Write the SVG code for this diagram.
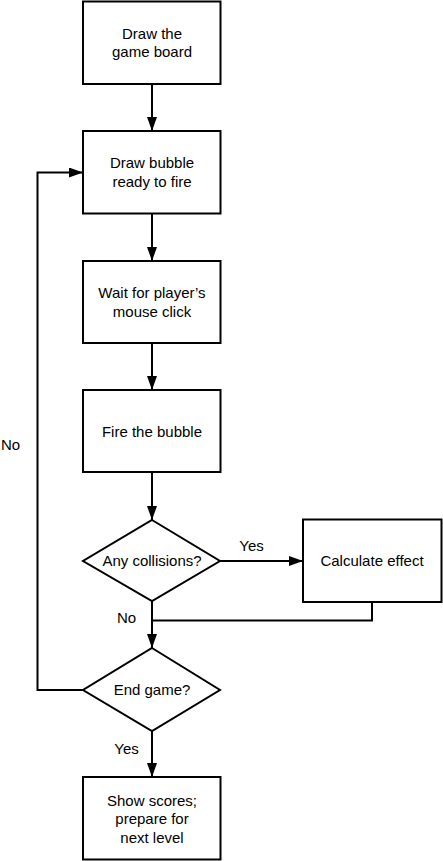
<svg xmlns="http://www.w3.org/2000/svg" width="443" height="861" viewBox="0 0 443 861">
<defs>
<marker id="arr" markerWidth="14" markerHeight="10" refX="14" refY="5" orient="auto" markerUnits="userSpaceOnUse">
<path d="M0,0 L14,5 L0,10 Z" fill="#000"/>
</marker>
<style>
.box{fill:#fff;stroke:#000;stroke-width:2}
.t{font-family:"Liberation Sans",Arial,sans-serif;font-size:15px;fill:#000;text-anchor:middle}
.c{fill:none;stroke:#000;stroke-width:2}
</style>
</defs>
<rect width="443" height="861" fill="#fff"/>
<g id="connectors">
<line class="c" x1="152" y1="84" x2="152" y2="131" marker-end="url(#arr)"/>
<line class="c" x1="152" y1="213" x2="152" y2="261" marker-end="url(#arr)"/>
<line class="c" x1="152" y1="343" x2="152" y2="390" marker-end="url(#arr)"/>
<line class="c" x1="152" y1="472" x2="152" y2="520" marker-end="url(#arr)"/>
<line class="c" x1="220" y1="561" x2="303" y2="561" marker-end="url(#arr)"/>
<polyline class="c" points="372,602 372,620.5 152,620.5"/>
<line class="c" x1="152" y1="601" x2="152" y2="648" marker-end="url(#arr)"/>
<polyline class="c" points="83,690 37.5,690 37.5,172.5 83,172.5" marker-end="url(#arr)"/>
<line class="c" x1="152" y1="731" x2="152" y2="777" marker-end="url(#arr)"/>
<text class="t" x="251.5" y="551">Yes</text>
<text class="t" x="126.5" y="623">No</text>
<text class="t" x="126.5" y="754">Yes</text>
<text class="t" x="10.5" y="450">No</text>
</g>
<g id="n1"><rect class="box" x="83" y="1.5" width="137.5" height="82.5"/><text class="t" x="152" y="38.5">Draw the</text><text class="t" x="152" y="57">game board</text></g>
<g id="n2"><rect class="box" x="83" y="131" width="137.5" height="82.5"/><text class="t" x="152" y="168">Draw bubble</text><text class="t" x="152" y="186.5">ready to fire</text></g>
<g id="n3"><rect class="box" x="83" y="261" width="137.5" height="82"/><text class="t" x="152" y="298">Wait for player’s</text><text class="t" x="152" y="316.5">mouse click</text></g>
<g id="n4"><rect class="box" x="83" y="390" width="137.5" height="82"/><text class="t" x="152" y="436.5">Fire the bubble</text></g>
<g id="n5"><polygon class="box" points="152,520 220,561 152,601 83,561"/><text class="t" x="152" y="566">Any collisions?</text></g>
<g id="n6"><rect class="box" x="303" y="519.5" width="138.5" height="82.5"/><text class="t" x="372" y="566">Calculate effect</text></g>
<g id="n7"><polygon class="box" points="152,648 220,690 152,731 83,690"/><text class="t" x="152" y="695">End game?</text></g>
<g id="n8"><rect class="box" x="83" y="777" width="137.5" height="82.5"/><text class="t" x="152" y="806">Show scores;</text><text class="t" x="152" y="824">prepare for</text><text class="t" x="152" y="842.5">next level</text></g>
</svg>
